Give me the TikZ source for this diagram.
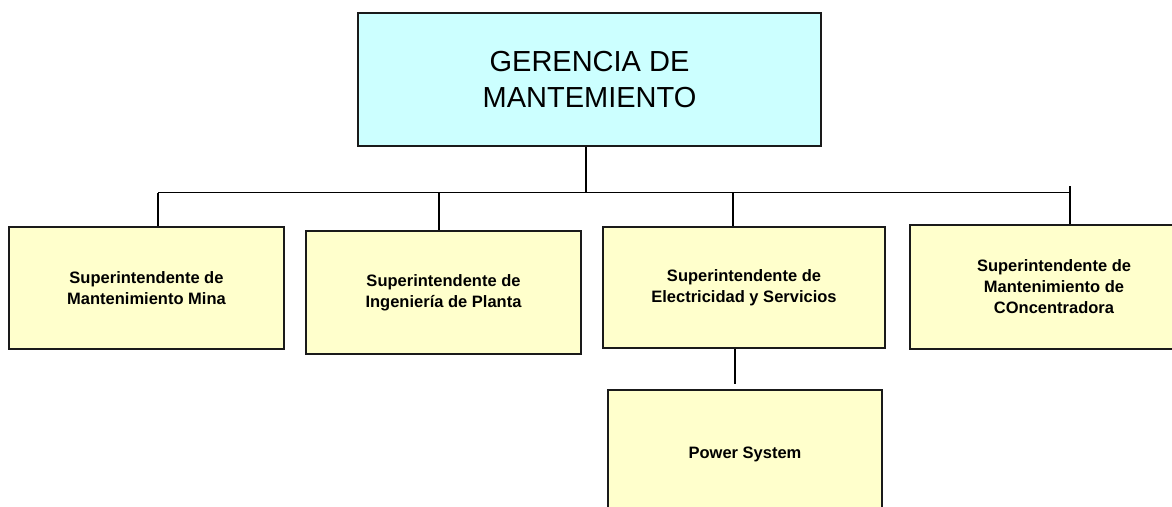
\documentclass[tikz,border=0pt]{standalone}
\usepackage{fontspec}
\setmainfont{Liberation Sans}
\definecolor{topfill}{HTML}{CCFFFF}
\definecolor{boxfill}{HTML}{FFFFCC}
\definecolor{edge}{HTML}{1A1A1A}
\begin{document}
\begin{tikzpicture}[x=1pt,y=-1pt,
  orgbox/.style={draw=edge,line width=1.5pt,fill=boxfill,inner sep=0pt,align=center,
    font=\fontsize{16.5}{21}\selectfont\bfseries},
  topbox/.style={draw=edge,line width=1.5pt,fill=topfill,inner sep=0pt,align=center,
    font=\fontsize{29}{35.6}\selectfont},
  link/.style={draw=black,line width=1.2pt}]
\useasboundingbox (0,0) rectangle (1172,506);
\fill[white] (0,0) rectangle (1172,506);
% boxes
\node[topbox,minimum width=463pt,minimum height=133pt] (top) at (589.5,79.5) {GERENCIA DE\\MANTEMIENTO};
\node[orgbox,minimum width=275pt,minimum height=122pt] (b1) at (146.5,288) {Superintendente de\\Mantenimiento Mina};
\node[orgbox,minimum width=275pt,minimum height=123pt] (b2) at (443.5,292.5) {Superintendente de\\Ingeniería de Planta};
\node[orgbox,minimum width=282pt,minimum height=121pt] (b3) at (744,287.5) {Superintendente de\\Electricidad y Servicios};
\node[orgbox,minimum width=288pt,minimum height=124pt] (b4) at (1054,287) {Superintendente de\\Mantenimiento de\\COncentradora};
\node[orgbox,minimum width=274pt,minimum height=128pt] (b5) at (745,454) {Power System};
% bus coordinates
\coordinate (busL) at (158,192.5);
\coordinate (busR) at (1070,192.5);
\coordinate (busT) at (586,192.5);
\coordinate (busB) at (439,192.5);
\coordinate (busC) at (733,192.5);
\coordinate (busRtop) at (1070,186);
\coordinate (psend) at (735,384);
% connectors
\draw[link] (top.south -| busT) -- (busT);
\draw[link] (busL) -- (busR);
\draw[link] (busL) -- (busL |- b1.north);
\draw[link] (busB) -- (busB |- b2.north);
\draw[link] (busC) -- (busC |- b3.north);
\draw[link] (busRtop) -- (busRtop |- b4.north);
\draw[link] (b3.south -| psend) -- (psend);
\end{tikzpicture}
\end{document}
